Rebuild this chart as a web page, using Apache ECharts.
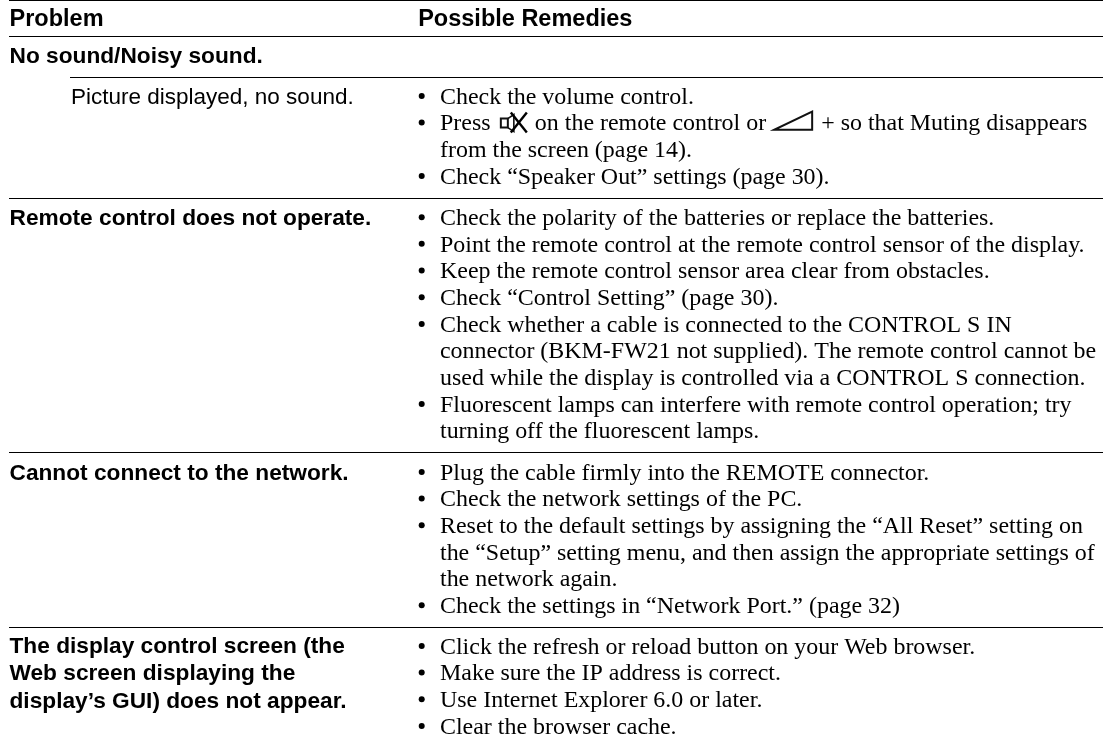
<!DOCTYPE html>
<html>
<head>
<meta charset="utf-8">
<style>
  html, body { margin: 0; padding: 0; background: #ffffff; }
  #main { width: 1103px; height: 744px; }
</style>
</head>
<body>
<div id="main"></div>
<script src="https://cdn.jsdelivr.net/npm/echarts@6/dist/echarts.min.js"></script>
<script>
const headers = ['Problem', 'Possible Remedies'];
const section = 'No sound/Noisy sound.';
const problems = [
  ['Picture displayed, no sound.'],
  ['Remote control does not operate.'],
  ['Cannot connect to the network.'],
  ['The display control screen (the', 'Web screen displaying the', 'display\u2019s GUI) does not appear.']
];
// a line starting with * gets a bullet, the others are continuation lines
const remedies = [
  ['*Check the volume control.',
   '*Press @mute on the remote control or @vol + so that Muting disappears',
   'from the screen (page 14).',
   '*Check \u201cSpeaker Out\u201d settings (page 30).'],
  ['*Check the polarity of the batteries or replace the batteries.',
   '*Point the remote control at the remote control sensor of the display.',
   '*Keep the remote control sensor area clear from obstacles.',
   '*Check \u201cControl Setting\u201d (page 30).',
   '*Check whether a cable is connected to the CONTROL S IN',
   'connector (BKM-FW21 not supplied). The remote control cannot be',
   'used while the display is controlled via a CONTROL S connection.',
   '*Fluorescent lamps can interfere with remote control operation; try',
   'turning off the fluorescent lamps.'],
  ['*Plug the cable firmly into the REMOTE connector.',
   '*Check the network settings of the PC.',
   '*Reset to the default settings by assigning the \u201cAll Reset\u201d setting on',
   'the \u201cSetup\u201d setting menu, and then assign the appropriate settings of',
   'the network again.',
   '*Check the settings in \u201cNetwork Port.\u201d (page 32)'],
  ['*Click the refresh or reload button on your Web browser.',
   '*Make sure the IP address is correct.',
   '*Use Internet Explorer 6.0 or later.',
   '*Clear the browser cache.']
];

const headBold = 'bold 23.5px "Liberation Sans"';
const sansBold = 'bold 22.7px "Liberation Sans"';
const sans = '22.5px "Liberation Sans"';
const serif = '23.95px "Liberation Serif"';
const lineH = 26.67;
const boldLineH = 27.7;
const rowTop = [97.4, 218.7, 473.4, 647.4];
const ruleY = [{ y: 0.5, x: 9 }, { y: 36.5, x: 9 }, { y: 77.5, x: 70 }, { y: 198.5, x: 9 }, { y: 452.5, x: 9 }, { y: 627.5, x: 9 }];

const measure = document.createElement('canvas').getContext('2d');
measure.font = serif;

const elements = [];
const addText = (text, x, y, font) => {
  elements.push({ type: 'text', x, y, style: { text, font, fill: '#000', verticalAlign: 'middle', align: 'left' } });
};
const addLine = (x1, y1, x2, y2, width) => {
  elements.push({ type: 'line', shape: { x1, y1, x2, y2 }, style: { stroke: '#000', lineWidth: width || 1.2 } });
};
// mute symbol: speaker with a cross over it
const addMute = (x, y) => {
  elements.push({ type: 'rect', shape: { x: x, y: y - 4, width: 7, height: 9 }, style: { fill: 'none', stroke: '#111', lineWidth: 2 } });
  elements.push({ type: 'polyline', shape: { points: [[x + 7, y - 4], [x + 13, y - 8], [x + 13, y + 9], [x + 7, y + 5]] }, style: { fill: 'none', stroke: '#111', lineWidth: 1.6 } });
  addLine(x + 10, y - 10, x + 26, y + 10, 2.4);
  addLine(x + 26, y - 10, x + 10, y + 10, 2.4);
};
// volume symbol: the rising wedge
const addVol = (x, y) => {
  elements.push({ type: 'polygon', shape: { points: [[x, y + 7.3], [x + 38, y + 7.3], [x + 38, y - 11]] }, style: { fill: 'none', stroke: '#111', lineWidth: 2 } });
};

const addRemedy = (line, y) => {
  let x = 440;
  if (line[0] === '*') {
    elements.push({ type: 'circle', shape: { cx: 421.7, cy: y - 1.5, r: 3 }, style: { fill: '#000' } });
    line = line.slice(1);
  }
  line.split(/ ?(@mute|@vol) ?/).forEach(part => {
    if (part === '@mute') {
      x += 9.3;
      addMute(x + 1, y - 1.5);
      x += 35;
    } else if (part === '@vol') {
      x += 8;
      addVol(x, y - 1.5);
      x += 47;
    } else {
      addText(part, x, y, serif);
      x += measure.measureText(part).width;
    }
  });
};

ruleY.forEach(r => addLine(r.x, r.y, 1103, r.y));
addText(headers[0], 9.5, 20, headBold);
addText(headers[1], 418.2, 20, headBold);
addText(section, 9.5, 56.7, sansBold);

problems.forEach((lines, i) => {
  lines.forEach((line, j) => {
    const y = i === 3 ? rowTop[i] - 1 + j * boldLineH : rowTop[i] + j * lineH;
    addText(line, i === 0 ? 71 : 9.5, y, i === 0 ? sans : sansBold);
  });
});
remedies.forEach((lines, i) => {
  lines.forEach((line, j) => addRemedy(line, rowTop[i] + j * lineH));
});

const chart = echarts.init(document.getElementById('main'));
chart.setOption({ animation: false, graphic: { elements } });
</script>
</body>
</html>
